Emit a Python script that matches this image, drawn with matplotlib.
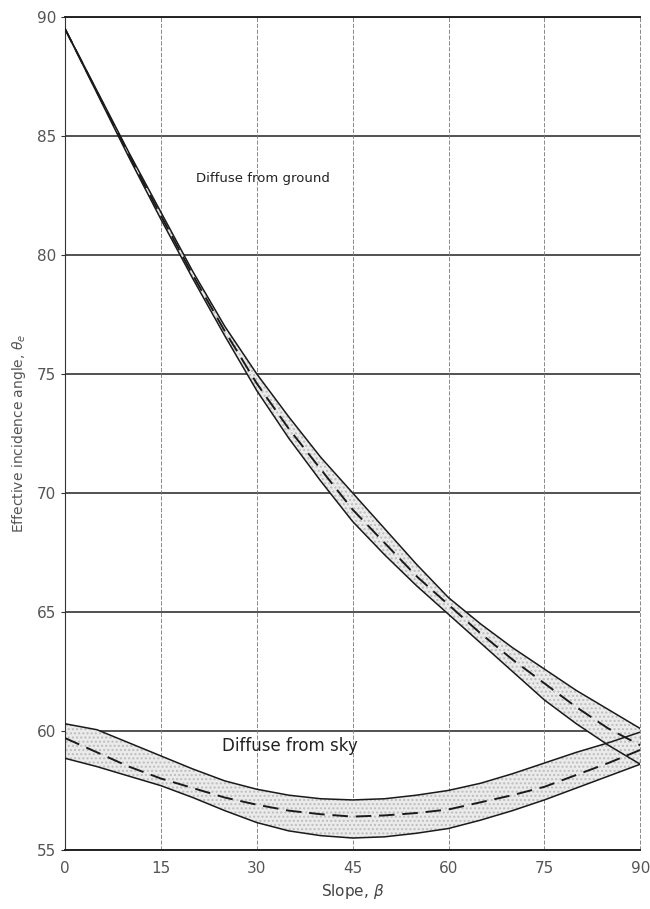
import numpy as np
import matplotlib
matplotlib.use("Agg")
import matplotlib.pyplot as plt

# Slope (degrees) at which curve values were read
slope = [0, 5, 10, 15, 20, 25, 30, 35, 40, 45, 50, 55, 60, 65, 70, 75, 80, 85, 90]

# Diffuse from ground band (effective incidence angle, degrees)
ground_upper = [89.5, 86.9, 84.3, 81.8, 79.3, 77.0, 75.0, 73.2, 71.5, 70.0,
                68.5, 67.0, 65.6, 64.5, 63.5, 62.6, 61.7, 60.9, 60.1]
ground_lower = [89.5, 86.8, 84.1, 81.5, 79.0, 76.6, 74.3, 72.3, 70.5, 68.8,
                67.4, 66.1, 64.9, 63.7, 62.5, 61.3, 60.3, 59.4, 58.6]
ground_mid = [89.5, 86.85, 84.2, 81.65, 79.15, 76.8, 74.6, 72.7, 71.0, 69.3,
              67.9, 66.5, 65.3, 64.1, 63.0, 62.0, 61.0, 60.1, 59.4]

# Diffuse from sky band
sky_upper = [60.3, 60.05, 59.5, 58.95, 58.4, 57.9, 57.55, 57.3, 57.15, 57.1,
             57.15, 57.3, 57.5, 57.8, 58.2, 58.65, 59.1, 59.5, 59.95]
sky_lower = [58.85, 58.5, 58.1, 57.7, 57.2, 56.65, 56.15, 55.8, 55.6, 55.5,
             55.55, 55.7, 55.9, 56.25, 56.65, 57.1, 57.6, 58.1, 58.6]
sky_mid = [59.7, 59.1, 58.5, 58.0, 57.6, 57.2, 56.9, 56.65, 56.5, 56.4,
           56.45, 56.55, 56.7, 57.0, 57.3, 57.65, 58.15, 58.65, 59.2]

x_ticks = [0, 15, 30, 45, 60, 75, 90]
y_ticks = [55, 60, 65, 70, 75, 80, 85, 90]

fig = plt.figure(figsize=(6.5, 9.09), dpi=100)
ax = fig.add_axes([0.1, 0.065, 0.885, 0.9164])

ax.set_xlim(0, 90)
ax.set_ylim(55, 90)

# grid: solid horizontal lines, faint dashed verticals
for y in y_ticks:
    ax.axhline(y, color="#222222", lw=1.1, zorder=1)
for x in x_ticks[1:]:
    ax.axvline(x, color="#777777", lw=0.6, ls=(0, (5, 2)), zorder=1,
               clip_on=False)

band = dict(facecolor="#ebebeb", edgecolor="#bdbdbd", hatch="....", lw=0, zorder=2)
ax.fill_between(slope, ground_lower, ground_upper, **band)
ax.fill_between(slope, sky_lower, sky_upper, **band)

line_kw = dict(color="#1a1a1a", lw=1.1, zorder=3)
dash_kw = dict(color="#1a1a1a", lw=1.4, ls=(0, (8, 4)), zorder=3)
ax.plot(slope, ground_upper, **line_kw)
ax.plot(slope, ground_lower, **line_kw)
ax.plot(slope, ground_mid, **dash_kw)
ax.plot(slope, sky_upper, **line_kw)
ax.plot(slope, sky_lower, **line_kw)
ax.plot(slope, sky_mid, **dash_kw)

ax.text(20.5, 83.2, "Diffuse from ground", fontsize=9.5, color="#222222",
        va="center")
ax.text(24.5, 59.35, "Diffuse from sky", fontsize=12, color="#222222",
        va="center")

ax.set_xticks(x_ticks)
ax.set_yticks(y_ticks)
ax.tick_params(axis="both", length=3, labelsize=11, labelcolor="#555555",
               color="#333333")
ax.tick_params(axis="x", length=0, pad=8)

ax.spines["left"].set_color("#333333")
ax.spines["bottom"].set_color("#222222")
ax.spines["bottom"].set_linewidth(1.4)
ax.spines["top"].set_color("#222222")
ax.spines["top"].set_linewidth(1.4)
ax.spines["right"].set_visible(False)

ax.set_xlabel("Slope, $\\beta$", fontsize=11, color="#444444", labelpad=4)
ax.set_ylabel("Effective incidence angle, $\\theta_e$", fontsize=10,
              color="#555555", labelpad=6)

fig.savefig("out.png", dpi=100)
